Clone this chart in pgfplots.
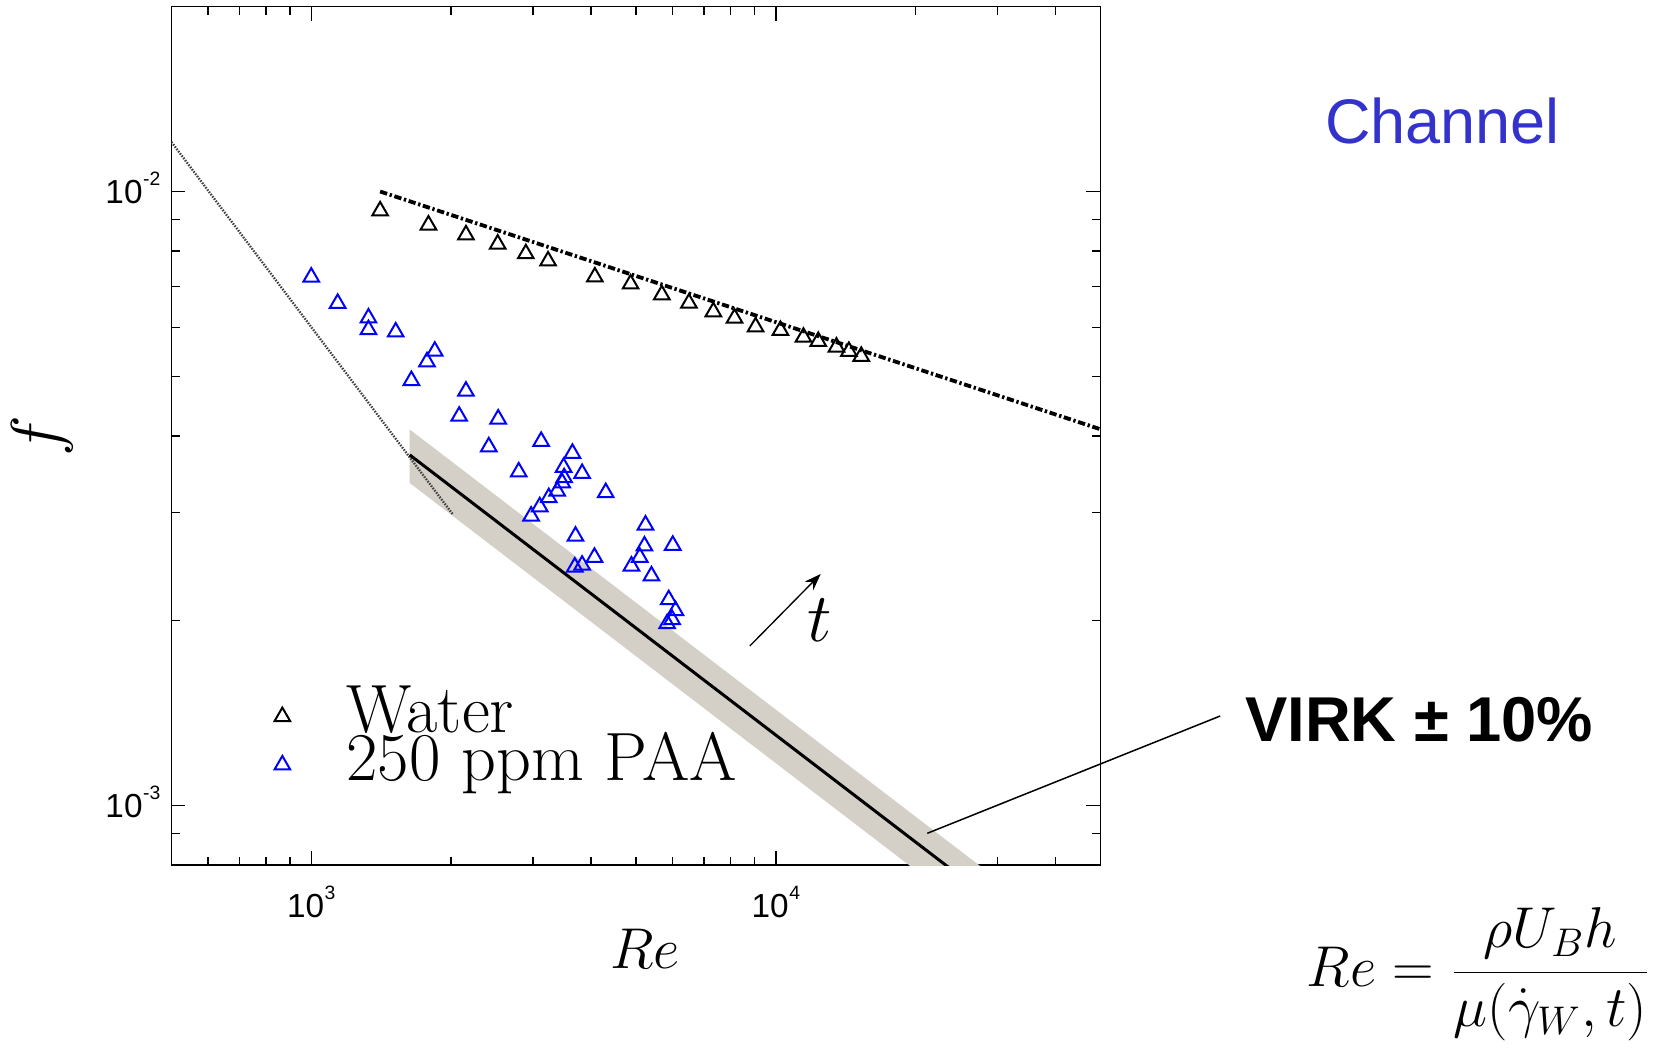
\documentclass[border=0pt]{standalone}
\usepackage{fontspec}
\usepackage{pgfplots}
\pgfplotsset{compat=1.18}
\usetikzlibrary{arrows.meta}
\newfontfamily\arial{Liberation Sans}
\definecolor{band}{RGB}{212,208,200}
\definecolor{chan}{RGB}{51,51,204}
\newcommand{\pw}[1]{10\kern0.2pt\raisebox{5.3pt}{\fontsize{5.8}{6}\selectfont #1}}
\begin{document}
\begin{tikzpicture}
\useasboundingbox (0,0) rectangle (498.6pt,317.1pt);
\begin{axis}[
  at={(51.42pt,57.6pt)}, anchor=south west,
  scale only axis, width=278.7pt, height=257.5pt,
  xmode=log, ymode=log,
  xmin=500, xmax=50000, ymin=8e-4, ymax=0.02,
  xtick={1000,10000}, xticklabels={\pw{3},\pw{4}},
  ytick={0.001,0.01}, yticklabels={\pw{-3},\pw{-2}},
  minor xtick={600,700,800,900,2000,3000,4000,5000,6000,7000,8000,9000,20000,30000,40000},
  minor ytick={0.0009,0.002,0.003,0.004,0.005,0.006,0.007,0.008,0.009},
  tick align=inside, tick pos=both, xticklabel pos=lower, yticklabel pos=left,
  major tick length=4.2pt, minor tick length=2.5pt,
  every tick/.style={black, line width=0.45pt},
  axis line style={line width=0.45pt},
  tick label style={font=\fontsize{10}{12}\selectfont\arial},
  xticklabel style={anchor=base, inner sep=0pt, yshift=-15.6pt},
  yticklabel style={anchor=base east, inner sep=0pt, xshift=-3.1pt, yshift=-3.6pt},
  xlabel={$Re$}, ylabel={$f$},
  xlabel style={at={(axis description cs:0.5099,-0.120)}, anchor=base, font=\fontsize{18.9}{20}\selectfont},
  ylabel style={at={(axis description cs:-0.139,0.5)}, anchor=center, font=\fontsize{20}{20}\selectfont},
  legend style={draw=none, fill=none, inner sep=0pt, at={(axis description cs:0.1103,0.2116)}, anchor=north west,
    font=\fontsize{20.5}{21}\selectfont, nodes={inner sep=0pt, text height=14.5pt, text depth=0pt},
    /tikz/every odd column/.append style={column sep=16.9pt}, row sep=0pt},
  legend image post style={yshift=-2.5pt},
  legend cell align=left,
  clip=true,
]
\addplot[forget plot, draw=none, fill=band] coordinates {(1629,0.0040975) (30000,0.00075856) (30000,0.00062064) (1629,0.0033525)} -- cycle;
\addplot[forget plot, black!75, line width=0.7pt, dash pattern=on 0.45pt off 0.4pt] coordinates {(500,0.01204) (2014,0.002985)};
\addplot[forget plot, black, line width=0.9pt] coordinates {(1629,0.003725) (30000,0.0006896)};
\addplot[forget plot, black, line width=1.15pt, dash pattern=on 2.2pt off 0.8pt on 0.7pt off 0.8pt] coordinates {(1407,0.0100) (50000,0.00410)};
\addplot[only marks, mark=triangle, mark size=2.7pt, black, mark options={line width=0.6pt}] coordinates {
(1407,0.00930) (1788,0.00882) (2153,0.00850) (2520,0.00821) (2897,0.00792) (3235,0.00771) (4079,0.00726) (4870,0.00707) (5685,0.00679) (6503,0.00658) (7341,0.00637) (8152,0.00622) (9048,0.00602) (10235,0.00594) (11470,0.00579) (12345,0.00570) (13510,0.00558) (14370,0.00549) (15280,0.00539)};
\addplot[only marks, mark=triangle, mark size=2.7pt, blue, mark options={line width=0.6pt}] coordinates {
(1000,0.007255) (1140,0.006575) (1328,0.006225) (1328,0.005958) (1520,0.005906) (1845,0.005494) (1775,0.005280) (1643,0.004922) (2153,0.004730) (2082,0.004306) (2526,0.004261) (2411,0.003839) (3126,0.003919) (3650,0.003747) (3494,0.003555) (3503,0.003419) (3469,0.003355) (3384,0.003252) (3246,0.003172) (3104,0.003066) (2974,0.002961) (3830,0.003474) (2797,0.003494) (4305,0.003233) (5243,0.002863) (3706,0.002746) (6002,0.002654) (5216,0.002647) (4071,0.002537) (5096,0.002537) (3830,0.002463) (3693,0.002446) (4890,0.002455) (5400,0.002366) (5883,0.002164) (6083,0.002077) (5984,0.002008) (5837,0.001978)};
\legend{Water, 250 ppm PAA}
\end{axis}
\draw[line width=0.45pt] (278.19pt,67.11pt) -- (366.06pt,102.3pt);
\draw[line width=0.4pt, -{Stealth[length=5pt,width=3.6pt]}] (224.94pt,123.3pt) -- (246.21pt,144.9pt);
\node[anchor=base, inner sep=0pt, font=\fontsize{19.5}{20}\selectfont] at (246pt,124.8pt) {$t$};
\node[anchor=base west, inner sep=0pt, text=chan, font=\fontsize{18.9}{20}\selectfont\arial] at (397.4pt,274.1pt) {Channel};
\node[anchor=base west, inner sep=0pt, font=\fontsize{19}{20}\selectfont\arial\bfseries] at (373.4pt,94.6pt) {VIRK ± 10\%};
\node[anchor=base west, inner sep=0pt, font=\fontsize{17.4}{20}\selectfont] at (391.8pt,21.1pt) {$\displaystyle Re=\frac{\rho U_{B}h}{\mu\!\left(\dot{\gamma}_{W},t\right)}$};
\end{tikzpicture}
\end{document}
